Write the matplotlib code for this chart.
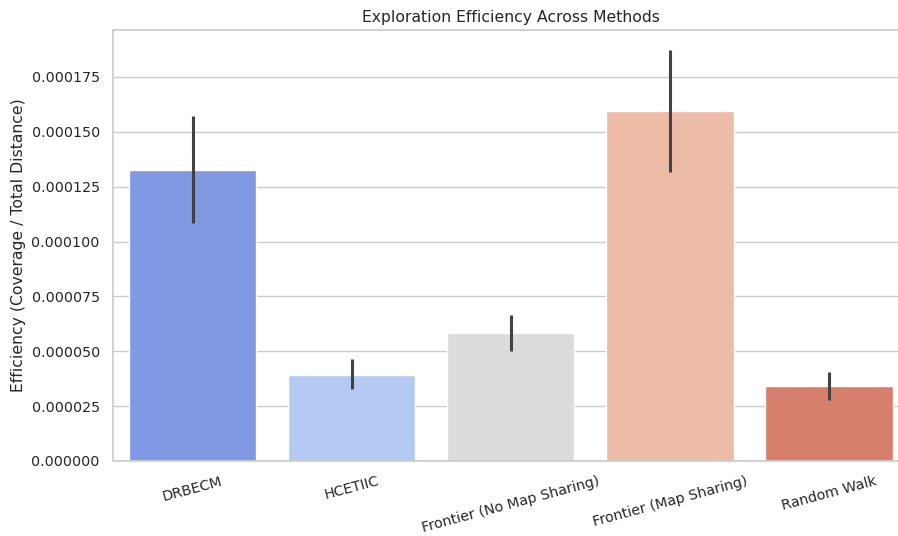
import matplotlib
matplotlib.use('Agg')
import matplotlib.pyplot as plt
import seaborn as sns

# Values
methods = ['DRBECM', 'HCETIIC', 'Frontier (No Map Sharing)', 'Frontier (Map Sharing)', 'Random Walk']
efficiency = [0.0001324, 0.0000394, 0.0000583, 0.0001595, 0.0000340]
ci_low = [0.0001085, 0.0000328, 0.0000501, 0.0001319, 0.0000276]
ci_high = [0.0001570, 0.0000465, 0.0000665, 0.0001875, 0.0000406]

sns.set_theme(style='whitegrid', font_scale=0.935)

fig = plt.figure(figsize=(8.98, 5.36), dpi=100)
ax = fig.add_axes([113 / 898, 75 / 536, 795.6 / 898, 431 / 536])

colors = [sns.desaturate(c, 0.75) for c in sns.color_palette('coolwarm', len(methods))]
x = range(len(methods))
ax.bar(x, efficiency, width=0.8, color=colors)
ax.vlines(x, ci_low, ci_high, color=(.26, .26, .26), linewidth=2.2, zorder=3)

ax.set_xlim(-0.5, len(methods) - 0.5)
ax.set_ylim(0, 0.0001964)
ax.set_xticks(list(x))
ax.set_xticklabels(methods, rotation=15)
ax.xaxis.grid(False)
ax.set_title('Exploration Efficiency Across Methods')
ax.set_ylabel('Efficiency (Coverage / Total Distance)')

plt.savefig('out.png', format='png')
plt.close()
